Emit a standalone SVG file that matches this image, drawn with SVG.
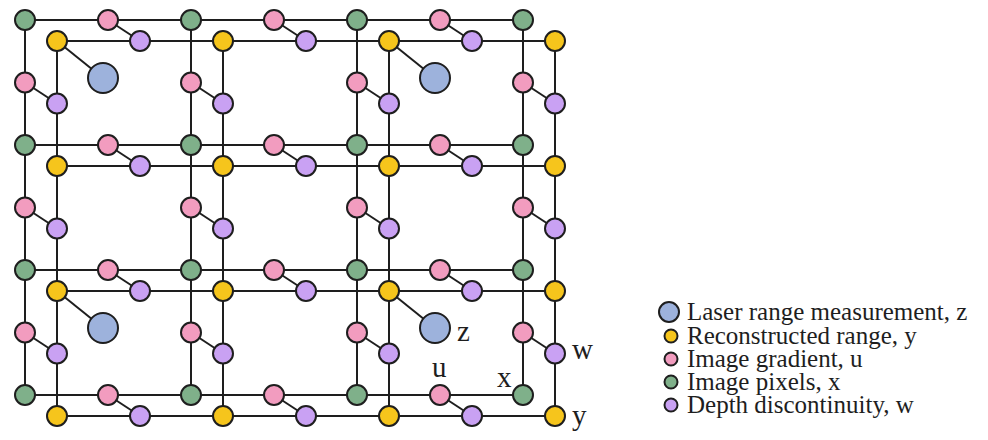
<svg xmlns="http://www.w3.org/2000/svg" width="988" height="440" viewBox="0 0 988 440">
  <style>
    .edge { stroke: #1e1e1e; stroke-width: 2; fill: none; }
    .node { stroke: #1e1e1e; stroke-width: 2; }
    .x { fill: #7fb08a; }
    .y { fill: #f6c51c; }
    .u { fill: #f29cbf; }
    .w { fill: #c9a1f3; }
    .z { fill: #9db2dc; }
    .lbl { font-family: "Liberation Serif", "Times New Roman", serif; font-size: 29px; fill: #1e1e1e; }
    .leg { font-family: "Liberation Serif", "Times New Roman", serif; font-size: 25px; fill: #1e1e1e; }
  </style>
  <rect width="988" height="440" fill="#ffffff"/>

  <!-- connectors -->
  <g id="connectors">
    <!-- image pixel lattice (x) -->
    <line class="edge" x1="25" y1="20" x2="523" y2="20"/>
    <line class="edge" x1="25" y1="145" x2="523" y2="145"/>
    <line class="edge" x1="25" y1="270" x2="523" y2="270"/>
    <line class="edge" x1="25" y1="395" x2="523" y2="395"/>
    <line class="edge" x1="25" y1="20" x2="25" y2="395"/>
    <line class="edge" x1="191" y1="20" x2="191" y2="395"/>
    <line class="edge" x1="357" y1="20" x2="357" y2="395"/>
    <line class="edge" x1="523" y1="20" x2="523" y2="395"/>
    <!-- reconstructed range lattice (y) -->
    <line class="edge" x1="57" y1="41" x2="555" y2="41"/>
    <line class="edge" x1="57" y1="166" x2="555" y2="166"/>
    <line class="edge" x1="57" y1="291" x2="555" y2="291"/>
    <line class="edge" x1="57" y1="416" x2="555" y2="416"/>
    <line class="edge" x1="57" y1="41" x2="57" y2="416"/>
    <line class="edge" x1="223" y1="41" x2="223" y2="416"/>
    <line class="edge" x1="389" y1="41" x2="389" y2="416"/>
    <line class="edge" x1="555" y1="41" x2="555" y2="416"/>
    <!-- gradient to discontinuity links (u - w), horizontal edges -->
    <line class="edge" x1="108" y1="20" x2="140" y2="41"/>
    <line class="edge" x1="274" y1="20" x2="306" y2="41"/>
    <line class="edge" x1="440" y1="20" x2="472" y2="41"/>
    <line class="edge" x1="108" y1="145" x2="140" y2="166"/>
    <line class="edge" x1="274" y1="145" x2="306" y2="166"/>
    <line class="edge" x1="440" y1="145" x2="472" y2="166"/>
    <line class="edge" x1="108" y1="270" x2="140" y2="291"/>
    <line class="edge" x1="274" y1="270" x2="306" y2="291"/>
    <line class="edge" x1="440" y1="270" x2="472" y2="291"/>
    <line class="edge" x1="108" y1="395" x2="140" y2="416"/>
    <line class="edge" x1="274" y1="395" x2="306" y2="416"/>
    <line class="edge" x1="440" y1="395" x2="472" y2="416"/>
    <!-- gradient to discontinuity links (u - w), vertical edges -->
    <line class="edge" x1="25" y1="82.5" x2="57" y2="103.5"/>
    <line class="edge" x1="191" y1="82.5" x2="223" y2="103.5"/>
    <line class="edge" x1="357" y1="82.5" x2="389" y2="103.5"/>
    <line class="edge" x1="523" y1="82.5" x2="555" y2="103.5"/>
    <line class="edge" x1="25" y1="207.5" x2="57" y2="228.5"/>
    <line class="edge" x1="191" y1="207.5" x2="223" y2="228.5"/>
    <line class="edge" x1="357" y1="207.5" x2="389" y2="228.5"/>
    <line class="edge" x1="523" y1="207.5" x2="555" y2="228.5"/>
    <line class="edge" x1="25" y1="332.5" x2="57" y2="353.5"/>
    <line class="edge" x1="191" y1="332.5" x2="223" y2="353.5"/>
    <line class="edge" x1="357" y1="332.5" x2="389" y2="353.5"/>
    <line class="edge" x1="523" y1="332.5" x2="555" y2="353.5"/>
    <!-- laser measurements to range (z - y) -->
    <line class="edge" x1="57" y1="41" x2="103" y2="78"/>
    <line class="edge" x1="389" y1="41" x2="435" y2="78"/>
    <line class="edge" x1="57" y1="291" x2="103" y2="328"/>
    <line class="edge" x1="389" y1="291" x2="435" y2="328"/>
  </g>

  <!-- laser range measurements z -->
  <g id="z-nodes">
    <circle id="z00" class="node z" cx="103" cy="78" r="15"/>
    <circle id="z02" class="node z" cx="435" cy="78" r="15"/>
    <circle id="z20" class="node z" cx="103" cy="328" r="15"/>
    <circle id="z22" class="node z" cx="435" cy="328" r="15"/>
  </g>

  <!-- image pixels x -->
  <g id="x-nodes">
    <circle id="x00" class="node x" cx="25" cy="20" r="10"/>
    <circle id="x01" class="node x" cx="191" cy="20" r="10"/>
    <circle id="x02" class="node x" cx="357" cy="20" r="10"/>
    <circle id="x03" class="node x" cx="523" cy="20" r="10"/>
    <circle id="x10" class="node x" cx="25" cy="145" r="10"/>
    <circle id="x11" class="node x" cx="191" cy="145" r="10"/>
    <circle id="x12" class="node x" cx="357" cy="145" r="10"/>
    <circle id="x13" class="node x" cx="523" cy="145" r="10"/>
    <circle id="x20" class="node x" cx="25" cy="270" r="10"/>
    <circle id="x21" class="node x" cx="191" cy="270" r="10"/>
    <circle id="x22" class="node x" cx="357" cy="270" r="10"/>
    <circle id="x23" class="node x" cx="523" cy="270" r="10"/>
    <circle id="x30" class="node x" cx="25" cy="395" r="10"/>
    <circle id="x31" class="node x" cx="191" cy="395" r="10"/>
    <circle id="x32" class="node x" cx="357" cy="395" r="10"/>
    <circle id="x33" class="node x" cx="523" cy="395" r="10"/>
  </g>

  <!-- reconstructed range y -->
  <g id="y-nodes">
    <circle id="y00" class="node y" cx="57" cy="41" r="10"/>
    <circle id="y01" class="node y" cx="223" cy="41" r="10"/>
    <circle id="y02" class="node y" cx="389" cy="41" r="10"/>
    <circle id="y03" class="node y" cx="555" cy="41" r="10"/>
    <circle id="y10" class="node y" cx="57" cy="166" r="10"/>
    <circle id="y11" class="node y" cx="223" cy="166" r="10"/>
    <circle id="y12" class="node y" cx="389" cy="166" r="10"/>
    <circle id="y13" class="node y" cx="555" cy="166" r="10"/>
    <circle id="y20" class="node y" cx="57" cy="291" r="10"/>
    <circle id="y21" class="node y" cx="223" cy="291" r="10"/>
    <circle id="y22" class="node y" cx="389" cy="291" r="10"/>
    <circle id="y23" class="node y" cx="555" cy="291" r="10"/>
    <circle id="y30" class="node y" cx="57" cy="416" r="10"/>
    <circle id="y31" class="node y" cx="223" cy="416" r="10"/>
    <circle id="y32" class="node y" cx="389" cy="416" r="10"/>
    <circle id="y33" class="node y" cx="555" cy="416" r="10"/>
  </g>

  <!-- image gradients u -->
  <g id="u-nodes">
    <circle class="node u" cx="108" cy="20" r="10"/>
    <circle class="node u" cx="274" cy="20" r="10"/>
    <circle class="node u" cx="440" cy="20" r="10"/>
    <circle class="node u" cx="108" cy="145" r="10"/>
    <circle class="node u" cx="274" cy="145" r="10"/>
    <circle class="node u" cx="440" cy="145" r="10"/>
    <circle class="node u" cx="108" cy="270" r="10"/>
    <circle class="node u" cx="274" cy="270" r="10"/>
    <circle class="node u" cx="440" cy="270" r="10"/>
    <circle class="node u" cx="108" cy="395" r="10"/>
    <circle class="node u" cx="274" cy="395" r="10"/>
    <circle class="node u" cx="440" cy="395" r="10"/>
    <circle class="node u" cx="25" cy="82.5" r="10"/>
    <circle class="node u" cx="191" cy="82.5" r="10"/>
    <circle class="node u" cx="357" cy="82.5" r="10"/>
    <circle class="node u" cx="523" cy="82.5" r="10"/>
    <circle class="node u" cx="25" cy="207.5" r="10"/>
    <circle class="node u" cx="191" cy="207.5" r="10"/>
    <circle class="node u" cx="357" cy="207.5" r="10"/>
    <circle class="node u" cx="523" cy="207.5" r="10"/>
    <circle class="node u" cx="25" cy="332.5" r="10"/>
    <circle class="node u" cx="191" cy="332.5" r="10"/>
    <circle class="node u" cx="357" cy="332.5" r="10"/>
    <circle class="node u" cx="523" cy="332.5" r="10"/>
  </g>

  <!-- depth discontinuities w -->
  <g id="w-nodes">
    <circle class="node w" cx="140" cy="41" r="10"/>
    <circle class="node w" cx="306" cy="41" r="10"/>
    <circle class="node w" cx="472" cy="41" r="10"/>
    <circle class="node w" cx="140" cy="166" r="10"/>
    <circle class="node w" cx="306" cy="166" r="10"/>
    <circle class="node w" cx="472" cy="166" r="10"/>
    <circle class="node w" cx="140" cy="291" r="10"/>
    <circle class="node w" cx="306" cy="291" r="10"/>
    <circle class="node w" cx="472" cy="291" r="10"/>
    <circle class="node w" cx="140" cy="416" r="10"/>
    <circle class="node w" cx="306" cy="416" r="10"/>
    <circle class="node w" cx="472" cy="416" r="10"/>
    <circle class="node w" cx="57" cy="103.5" r="10"/>
    <circle class="node w" cx="223" cy="103.5" r="10"/>
    <circle class="node w" cx="389" cy="103.5" r="10"/>
    <circle class="node w" cx="555" cy="103.5" r="10"/>
    <circle class="node w" cx="57" cy="228.5" r="10"/>
    <circle class="node w" cx="223" cy="228.5" r="10"/>
    <circle class="node w" cx="389" cy="228.5" r="10"/>
    <circle class="node w" cx="555" cy="228.5" r="10"/>
    <circle class="node w" cx="57" cy="353.5" r="10"/>
    <circle class="node w" cx="223" cy="353.5" r="10"/>
    <circle class="node w" cx="389" cy="353.5" r="10"/>
    <circle class="node w" cx="555" cy="353.5" r="10"/>
  </g>

  <!-- variable labels -->
  <g id="labels">
    <text class="lbl" x="457" y="341">z</text>
    <text class="lbl" x="432" y="377">u</text>
    <text class="lbl" x="497" y="387">x</text>
    <text class="lbl" x="572" y="359">w</text>
    <text class="lbl" x="572" y="425">y</text>
  </g>

  <!-- legend -->
  <g id="legend">
    <circle class="node z" cx="669" cy="312" r="10"/>
    <text class="leg" x="687" y="320">Laser range measurement, z</text>
    <circle class="node y" cx="671" cy="336" r="6.5"/>
    <text class="leg" x="687" y="344">Reconstructed range, y</text>
    <circle class="node u" cx="671" cy="359" r="6.5"/>
    <text class="leg" x="687" y="367">Image gradient, u</text>
    <circle class="node x" cx="671" cy="382" r="6.5"/>
    <text class="leg" x="687" y="390">Image pixels, x</text>
    <circle class="node w" cx="671" cy="405" r="6.5"/>
    <text class="leg" x="687" y="413">Depth discontinuity, w</text>
  </g>
</svg>
